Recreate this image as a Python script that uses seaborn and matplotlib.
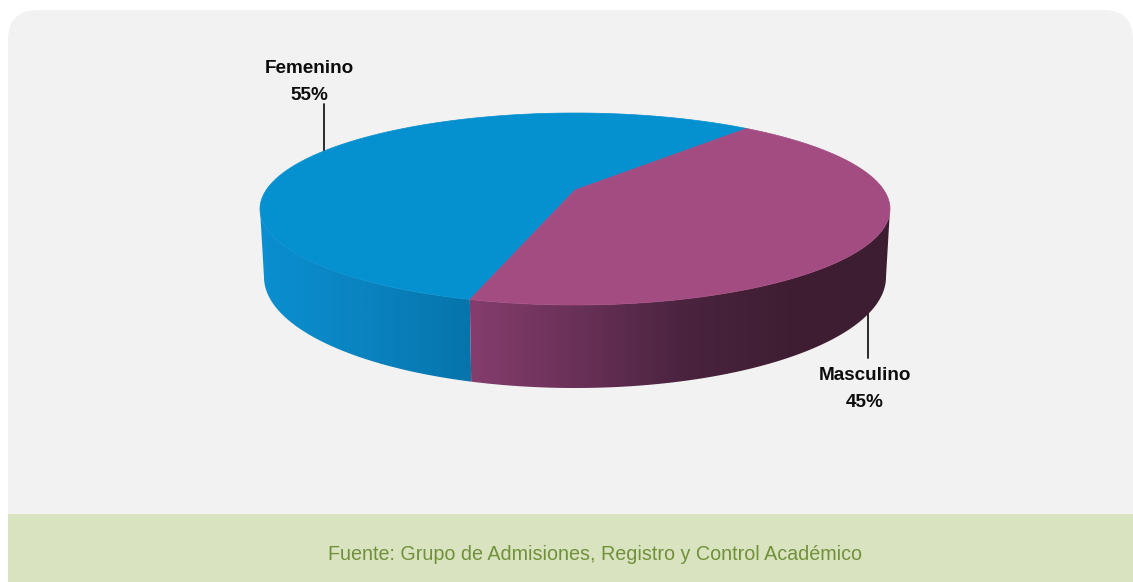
"""
3D-looking pie of students by gender, drawn on a canvas measured in pixels.
"""
import matplotlib
matplotlib.use("Agg")
import matplotlib.pyplot as plt
from matplotlib.patches import FancyBboxPatch, Polygon, Rectangle
import numpy as np
import seaborn as sns

categories = ["Femenino", "Masculino"]
shares = [55, 45]
source = "Fuente: Grupo de Admisiones, Registro y Control Académico"

# pie geometry, in pixels of the canvas
CX, CY = 575, 209
RX, RY = 315, 96
APEX_Y = 190
BASE_RX, BASE_CY, BASE_RY = 311, 277, 111
START = 57       # degrees, where Femenino starts
VIEW_SKEW = -4.5  # the perspective of the original squeezes the front


def ellipse(theta, cx=CX, cy=CY, rx=RX, ry=RY):
    t = np.radians(theta)
    return cx + rx * np.cos(t), cy - ry * np.sin(t)


def slice_top(ax, t0, t1, color):
    x, y = ellipse(np.linspace(t0, t1, 300))
    ax.fill(np.r_[CX, x], np.r_[APEX_Y, y], color=color, lw=0.5, zorder=3)


def slice_side(ax, t0, t1, shades):
    """Front wall between two angles, shaded from left to right"""
    cmap = sns.blend_palette(shades, as_cmap=True)
    theta = np.linspace(t0, t1, 300)
    xt, yt = ellipse(theta)
    xb, yb = ellipse(theta, cy=BASE_CY, rx=BASE_RX, ry=BASE_RY)
    wall = Polygon(np.c_[np.r_[xt, xb[::-1]], np.r_[yt, yb[::-1]]], closed=True,
                   transform=ax.transData, fc="none", ec="none")
    ax.add_patch(wall)
    left, right = min(xt.min(), xb.min()), max(xt.max(), xb.max())
    img = ax.imshow(np.linspace(0, 1, 256)[None, :], cmap=cmap, aspect="auto",
                    extent=(left, right, yb.max() + 2, yt.min() - 2), zorder=2,
                    interpolation="bilinear")
    img.set_clip_path(wall)


def main():
    sns.set_theme(style="white")
    plt.rcParams["font.family"] = ["Liberation Sans Narrow", "Liberation Sans"]

    fig = plt.figure(figsize=(11.33, 5.82), dpi=100)
    ax = fig.add_axes([0, 0, 1, 1])
    ax.axis("off")

    # background panel and the source band
    ax.add_patch(FancyBboxPatch((8, 10), 1125, 560, boxstyle="round,pad=0,rounding_size=30",
                                fc="#f2f2f2", ec="none", zorder=0))
    ax.add_patch(Rectangle((8, 514), 1125, 68, fc="#d9e3c0", ec="none", zorder=1))
    ax.text(595.5, 554, source, color="#70913a", fontsize=14.2, ha="center", va="center")

    top_colors = sns.color_palette(["#0590d0", "#a34c82"])
    split = START + 360 * shares[0] / sum(shares) + VIEW_SKEW

    slice_side(ax, 180, split, ["#0a8fd0", "#0a83c0", "#0674ab"])
    slice_side(ax, split, 360, ["#853d6e", "#6a3158", "#4b2440", "#3f1e33", "#3d1d31"])
    slice_top(ax, START, split, top_colors[0])
    slice_top(ax, split, START + 360, top_colors[1])

    # leader lines and labels
    ax.plot([324, 324], [104, 151], color="#1a1a1a", lw=1.3, zorder=1.5)
    ax.plot([868, 868], [312, 358], color="#1a1a1a", lw=1.3, zorder=1.5)
    label_xy = [(309, 82), (865, 389)]
    for name, share, (x, y) in zip(categories, shares, label_xy):
        ax.text(x, y, f"{name}\n{share}%", ha="center", va="center", color="#0d0d0d",
                fontsize=13.6, fontweight="bold", linespacing=1.72, zorder=4)

    ax.set_xlim(0, 1133)
    ax.set_ylim(582, 0)
    fig.savefig("out.png", dpi=100)


if __name__ == "__main__":
    main()
